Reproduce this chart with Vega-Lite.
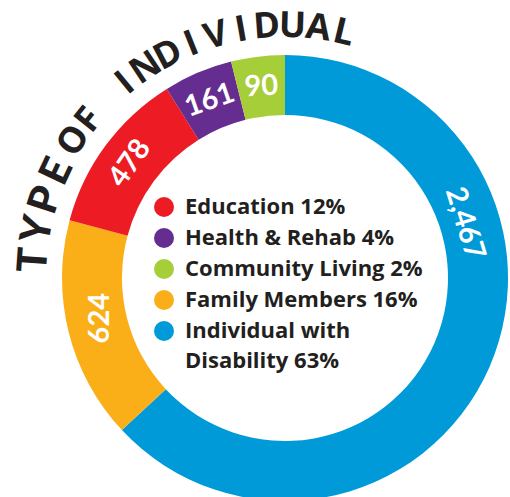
{
  "$schema": "https://vega.github.io/schema/vega-lite/v6.json",
  "width": 570,
  "height": 556,
  "autosize": "none",
  "padding": 0,
  "background": "white",
  "config": {"view": {"stroke": null}, "style": {"guide-label": {"lineHeight": 30}}},
  "datasets": {
    "seg": [
      {"k": 1, "legend": "Individual with Disability 63%", "value": 2467, "arcShare": 227},
      {"k": 2, "legend": "Family Members 16%", "value": 624, "arcShare": 58},
      {"k": 3, "legend": "Education 12%", "value": 478, "arcShare": 43},
      {"k": 4, "legend": "Health & Rehab 4%", "value": 161, "arcShare": 18},
      {"k": 5, "legend": "Community Living 2%", "value": 90, "arcShare": 14}
    ],
    "letters": [
      {"i": 0, "ch": "T", "part": "TYPE"},
      {"i": 1, "ch": "Y", "part": "TYPE"},
      {"i": 2, "ch": "P", "part": "TYPE"},
      {"i": 3, "ch": "E", "part": "TYPE"},
      {"i": 5, "ch": "O", "part": "rest"},
      {"i": 6, "ch": "F", "part": "rest"},
      {"i": 8, "ch": "I", "part": "rest"},
      {"i": 9, "ch": "N", "part": "rest"},
      {"i": 10, "ch": "D", "part": "rest"},
      {"i": 11, "ch": "I", "part": "rest"},
      {"i": 12, "ch": "V", "part": "rest"},
      {"i": 13, "ch": "I", "part": "rest"},
      {"i": 14, "ch": "D", "part": "rest"},
      {"i": 15, "ch": "U", "part": "rest"},
      {"i": 16, "ch": "A", "part": "rest"},
      {"i": 17, "ch": "L", "part": "rest"}
    ]
  },
  "layer": [
    {
      "data": {"name": "seg"},
      "layer": [
        {
          "mark": {"type": "arc", "outerRadius": 223, "innerRadius": 163},
          "encoding": {
            "theta": {"field": "arcShare", "type": "quantitative", "stack": true},
            "order": {"field": "k", "type": "quantitative"},
            "color": {
              "field": "legend",
              "type": "nominal",
              "scale": {
                "domain": ["Education 12%", "Health & Rehab 4%", "Community Living 2%", "Family Members 16%", "Individual with Disability 63%"],
                "range": ["#ED1C24", "#662D91", "#A6CE39", "#FAAF19", "#009AD9"]
              },
              "legend": {
                "title": null,
                "orient": "none",
                "legendX": 153,
                "legendY": 196,
                "symbolType": "circle",
                "symbolSize": 400,
                "symbolStrokeWidth": 0,
                "symbolOpacity": 1,
                "labelFont": "Open Sans",
                "labelFontSize": 22,
                "labelFontWeight": 700,
                "labelColor": "#231F20",
                "labelLimit": 0,
                "labelOffset": 10,
                "rowPadding": 9,
                "labelExpr": "datum.label == 'Individual with Disability 63%' ? ['Individual with', 'Disability 63%'] : datum.label"
              }
            }
          }
        },
        {
          "mark": {"type": "text", "radius": 188, "thetaOffset": -0.705, "angle": 73, "color": "white", "font": "Lato", "fontSize": 29, "fontWeight": 700, "align": "center", "baseline": "middle"},
          "encoding": {
            "theta": {"field": "arcShare", "type": "quantitative", "stack": true},
            "order": {"field": "k", "type": "quantitative"},
            "detail": {"field": "legend", "type": "nominal"},
            "text": {"condition": {"test": "datum.k === 1", "field": "value", "type": "quantitative", "format": ","}, "value": ""}
          }
        },
        {
          "mark": {"type": "text", "radius": 189, "thetaOffset": 0.03, "angle": 270, "color": "white", "font": "Lato", "fontSize": 29, "fontWeight": 700, "align": "center", "baseline": "middle"},
          "encoding": {
            "theta": {"field": "arcShare", "type": "quantitative", "stack": true},
            "order": {"field": "k", "type": "quantitative"},
            "detail": {"field": "legend", "type": "nominal"},
            "text": {"condition": {"test": "datum.k === 2", "field": "value", "type": "quantitative", "format": ","}, "value": ""}
          }
        },
        {
          "mark": {"type": "text", "radius": 193, "angle": 305, "color": "white", "font": "Lato", "fontSize": 29, "fontWeight": 700, "align": "center", "baseline": "middle"},
          "encoding": {
            "theta": {"field": "arcShare", "type": "quantitative", "stack": true},
            "order": {"field": "k", "type": "quantitative"},
            "detail": {"field": "legend", "type": "nominal"},
            "text": {"condition": {"test": "datum.k === 3", "field": "value", "type": "quantitative", "format": ","}, "value": ""}
          }
        },
        {
          "mark": {"type": "text", "radius": 193, "angle": 341, "color": "white", "font": "Lato", "fontSize": 29, "fontWeight": 700, "align": "center", "baseline": "middle"},
          "encoding": {
            "theta": {"field": "arcShare", "type": "quantitative", "stack": true},
            "order": {"field": "k", "type": "quantitative"},
            "detail": {"field": "legend", "type": "nominal"},
            "text": {"condition": {"test": "datum.k === 4", "field": "value", "type": "quantitative", "format": ","}, "value": ""}
          }
        },
        {
          "mark": {"type": "text", "radius": 193, "angle": 356, "color": "white", "font": "Lato", "fontSize": 29, "fontWeight": 700, "align": "center", "baseline": "middle"},
          "encoding": {
            "theta": {"field": "arcShare", "type": "quantitative", "stack": true},
            "order": {"field": "k", "type": "quantitative"},
            "detail": {"field": "legend", "type": "nominal"},
            "text": {"condition": {"test": "datum.k === 5", "field": "value", "type": "quantitative", "format": ","}, "value": ""}
          }
        }
      ]
    },
    {
      "data": {"name": "letters"},
      "layer": [
        {
          "transform": [{"filter": "datum.part === 'TYPE'"}],
          "mark": {"type": "text", "radius": 251, "color": "#231F20", "font": "Lato", "fontSize": 41, "fontWeight": 900, "align": "center", "baseline": "middle"},
          "encoding": {
            "theta": {"field": "i", "type": "quantitative", "scale": {"domain": [0, 17], "range": [4.784, 6.852]}},
            "angle": {"field": "i", "type": "quantitative", "scale": {"domain": [0, 17], "range": [274.1, 392.6]}},
            "text": {"field": "ch", "type": "nominal"}
          }
        },
        {
          "transform": [{"filter": "datum.part === 'rest'"}],
          "mark": {"type": "text", "radius": 252, "color": "#231F20", "font": "Open Sans", "fontSize": 36, "fontWeight": 700, "align": "center", "baseline": "middle"},
          "encoding": {
            "theta": {"field": "i", "type": "quantitative", "scale": {"domain": [0, 17], "range": [4.776, 6.518]}},
            "angle": {"field": "i", "type": "quantitative", "scale": {"domain": [0, 17], "range": [273.64, 373.43]}},
            "text": {"field": "ch", "type": "nominal"}
          }
        }
      ],
      "resolve": {"scale": {"theta": "independent", "angle": "independent"}}
    }
  ],
  "resolve": {"scale": {"theta": "independent"}}
}
